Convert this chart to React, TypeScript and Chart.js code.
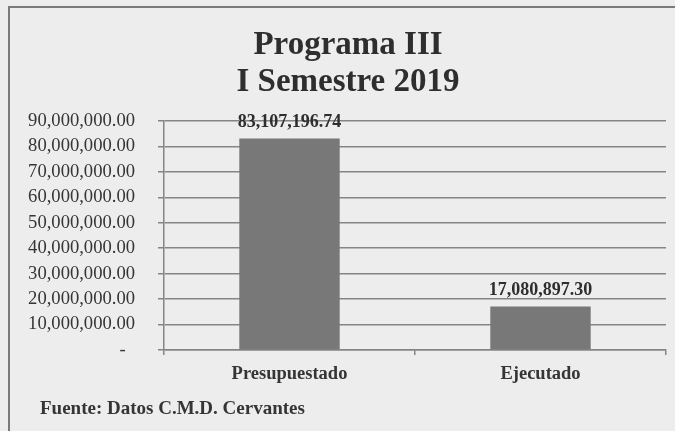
import React, { useEffect, useRef } from "react";
import { Chart, registerables } from "chart.js";

Chart.register(...registerables);

const categories = ["Presupuestado", "Ejecutado"];
const values = [83107196.74, 17080897.3];
const titleLines = ["Programa III", "I Semestre 2019"];
const footerText = "Fuente: Datos C.M.D. Cervantes";
const yMax = 90000000;
const yStep = 10000000;

const FONT = "'Liberation Serif', 'Times New Roman', serif";
const TEXT = "#353535";

const fmt = (v: number) =>
  v.toLocaleString("en-US", { minimumFractionDigits: 2, maximumFractionDigits: 2 });

const decorPlugin = {
  id: "decor",
  beforeDraw(chart: any) {
    const { ctx, width, height } = chart;
    ctx.save();
    ctx.fillStyle = "#ededed";
    ctx.fillRect(0, 0, width, height);
    ctx.strokeStyle = "#7a7a7a";
    ctx.lineWidth = 2;
    ctx.strokeRect(9, 7, width + 20, height + 20);
    ctx.restore();
  },
  afterDraw(chart: any) {
    const { ctx } = chart;
    ctx.save();
    ctx.fillStyle = "#2e2e2e";
    ctx.font = `bold 33px ${FONT}`;
    ctx.textAlign = "center";
    ctx.textBaseline = "alphabetic";
    ctx.fillText(titleLines[0], 348, 54);
    ctx.fillText(titleLines[1], 348, 91);
    ctx.font = `bold 19px ${FONT}`;
    ctx.textAlign = "left";
    ctx.fillStyle = TEXT;
    ctx.fillText(footerText, 40, 414);
    ctx.restore();
  },
  afterDatasetsDraw(chart: any) {
    const { ctx } = chart;
    const meta = chart.getDatasetMeta(0);
    ctx.save();
    ctx.fillStyle = "#2e2e2e";
    ctx.font = `bold 18px ${FONT}`;
    ctx.textAlign = "center";
    ctx.textBaseline = "alphabetic";
    meta.data.forEach((el: any, i: number) => {
      ctx.fillText(fmt(values[i]), el.x, el.y - 12);
    });
    ctx.restore();
  },
};

export default function App() {
  const ref = useRef<HTMLCanvasElement | null>(null);
  useEffect(() => {
    if (!ref.current) return;
    const chart = new Chart(ref.current, {
      type: "bar",
      data: {
        labels: categories,
        datasets: [
          {
            data: values,
            backgroundColor: "#787878",
            borderWidth: 0,
            categoryPercentage: 0.8,
            barPercentage: 0.5,
          },
        ],
      },
      options: {
        animation: false,
        responsive: false,
        maintainAspectRatio: false,
        layout: { padding: { left: 0, right: 9, top: 121, bottom: 0 } },
        plugins: {
          legend: { display: false },
          title: { display: false },
          tooltip: { enabled: false },
        },
        scales: {
          y: {
            min: 0,
            max: yMax,
            afterFit: (s: any) => {
              s.width = 164;
            },
            border: { display: true, color: "#858585", width: 1.5 },
            grid: { color: "#858585", lineWidth: 1.5, tickLength: 6 },
            ticks: {
              stepSize: yStep,
              padding: 23,
              color: TEXT,
              font: { family: FONT, size: 18.6 },
              callback: (v: any) => (Number(v) === 0 ? "-  " : fmt(Number(v))),
            },
          },
          x: {
            afterFit: (s: any) => {
              s.height = 81;
            },
            border: { display: true, color: "#858585", width: 1.5 },
            grid: {
              display: true,
              drawOnChartArea: false,
              offset: true,
              color: "#858585",
              lineWidth: 1.5,
              tickLength: 5,
            },
            ticks: {
              padding: 8,
              color: TEXT,
              font: { family: FONT, size: 18.5, weight: "bold" },
            },
          },
        },
      },
      plugins: [decorPlugin],
    });
    return () => chart.destroy();
  }, []);
  return (
    <div style={{ position: "fixed", left: 0, top: 0, width: 675, height: 431 }}>
      <canvas ref={ref} width={675} height={431} style={{ width: 675, height: 431 }} />
    </div>
  );
}
